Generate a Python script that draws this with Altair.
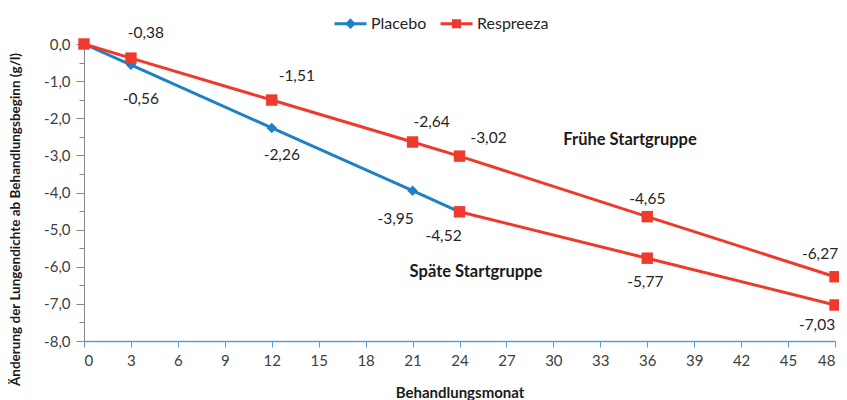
import altair as alt
import pandas as pd

# ---- data ----
months_placebo = [0, 3, 12, 21, 24]
placebo = [0.0, -0.56, -2.26, -3.95, -4.52]
months_early = [0, 3, 12, 21, 24, 36, 48]
early = [0.0, -0.38, -1.51, -2.64, -3.02, -4.65, -6.27]
months_late = [24, 36, 48]
late = [-4.52, -5.77, -7.03]
x_ticks = list(range(0, 49, 3))
anno_text = ["Frühe Startgruppe", "Späte Startgruppe"]
anno_x = [34.9, 25.05]
anno_y = [-2.59, -6.15]

# ---- style ----
BLUE = "#1F80C6"
RED = "#EE3A2C"
FONT = "Lato"
# label offsets (dx, dy) per labelled point
off_placebo = [(10, 34), (10, 27), (-17, 28), (-16, 24)]
off_early = [(15, -25), (25, -24), (19, -20), (29, -18), (0, -18), (-15, -23)]
off_late = [(-2, 24), (-18, 20)]

# legend symbols: line + marker, in unit coords scaled by sqrt(size)/2
DIAMOND = ("M-1,0L1,0"
           "M0,-0.2L0.2,0L0,0.2L-0.2,0Z"
           "M0,-0.08L0.08,0L0,0.08L-0.08,0Z")
SQUARE = ("M-1,0L1,0"
          "M-0.19,-0.19L0.19,-0.19L0.19,0.19L-0.19,0.19Z"
          "M-0.07,-0.07L0.07,-0.07L0.07,0.07L-0.07,0.07Z")


def fmt(v):
    return f"{v:.2f}".replace(".", ",")


rows = []
for m, v in zip(months_placebo, placebo):
    rows.append(dict(month=m, value=v, series="Placebo", group="placebo", label=fmt(v)))
for m, v in zip(months_early, early):
    rows.append(dict(month=m, value=v, series="Respreeza", group="early", label=fmt(v)))
for m, v in zip(months_late, late):
    rows.append(dict(month=m, value=v, series="Respreeza", group="late", label=fmt(v)))
df = pd.DataFrame(rows)

xscale = alt.Scale(domain=[0, 48], nice=False, zero=False)
yscale = alt.Scale(domain=[-8, 0], nice=False)
cscale = alt.Scale(domain=["Placebo", "Respreeza"], range=[BLUE, RED])

legend = alt.Legend(
    title=None,
    orient="none",
    legendX=249,
    legendY=-38,
    direction="horizontal",
    symbolSize=1024,
    symbolStrokeWidth=3,
    symbolType={"expr": f"datum.value === 'Placebo' ? '{DIAMOND}' : '{SQUARE}'"},
    symbolFillColor={"expr": "scale('color', datum.value)"},
    labelFont=FONT,
    labelFontSize=16,
    labelColor="#262626",
    labelOffset=3,
    columnPadding=7,
)

x_axis = alt.Axis(
    title="Behandlungsmonat",
    values=x_ticks,
    grid=False,
    domainColor="#5B9BD5",
    tickColor="#5B9BD5",
    domainWidth=1.5,
    tickSize=6,
    labelPadding=6,
    labelFont=FONT,
    labelFontSize=15,
    labelColor="#404040",
    titleFont=FONT,
    titleFontSize=15,
    titleFontWeight="bold",
    titleColor="#1a1a1a",
    titlePadding=17,
)
y_axis = alt.Axis(
    title="Änderung der Lungendichte ab Behandlungsbeginn (g/l)",
    values=[i * 0.5 for i in range(-16, 1)],
    labelExpr="datum.value % 1 === 0 ? (datum.value < 0 ? '-' : '') + replace(format(abs(datum.value), '.1f'), '.', ',') : ''",
    labelOverlap=False,
    grid=False,
    domainColor="#868686",
    tickColor="#868686",
    tickSize={"condition": {"test": "datum.value % 1 === 0", "value": 8}, "value": 5},
    labelPadding=6,
    labelFont=FONT,
    labelFontSize=15,
    labelColor="#404040",
    titleFont=FONT,
    titleFontSize=13.5,
    titleFontWeight="bold",
    titleColor="#1a1a1a",
    titleX=-69,
    titleY=175,
    titleAngle=270,
    titleAlign="center",
    titleBaseline="middle",
)

x_enc = alt.X("month:Q", scale=xscale, axis=x_axis)
y_enc = alt.Y("value:Q", scale=yscale, axis=y_axis)

base = alt.Chart(df)

lines = base.mark_line(strokeWidth=3).encode(
    x=x_enc,
    y=y_enc,
    color=alt.Color("series:N", scale=cscale, legend=legend),
    detail="group:N",
    order="month:Q",
)

pts_placebo = base.transform_filter(alt.datum.series == "Placebo").mark_point(
    filled=True, opacity=1, size=110, shape="diamond", color=BLUE
).encode(x=x_enc, y=y_enc)

pts_resp = base.transform_filter(alt.datum.series == "Respreeza").mark_point(
    filled=True, opacity=1, size=130, shape="square", color=RED
).encode(x=x_enc, y=y_enc)

layers = [lines, pts_placebo, pts_resp]

label_specs = [
    ("placebo", months_placebo[1:], off_placebo),
    ("early", months_early[1:], off_early),
    ("late", months_late[1:], off_late),
]
for grp, months, offs in label_specs:
    for m, (dx, dy) in zip(months, offs):
        layers.append(
            base.transform_filter(
                (alt.datum.group == grp) & (alt.datum.month == m)
            )
            .mark_text(
                dx=dx, dy=dy, font=FONT, fontSize=15.5, color="#262626",
                align="center", baseline="middle",
            )
            .encode(x=x_enc, y=y_enc, text="label:N")
        )

anno_df = pd.DataFrame({"text": anno_text, "month": anno_x, "value": anno_y})
annos = alt.Chart(anno_df).mark_text(
    font=FONT, fontSize=16.5, fontWeight="bold", color="#1a1a1a",
    align="center", baseline="middle",
).encode(x=x_enc, y=y_enc, text="text:N")
layers.append(annos)

chart = (
    alt.layer(*layers)
    .properties(
        width=751,
        height=297,
        autosize=alt.AutoSizeParams(type="none"),
        padding={"left": 76, "top": 36, "right": 4, "bottom": 60},
    )
    .configure_view(stroke=None)
)

chart.save("out.html", embed_options={"renderer": "svg", "actions": False})
